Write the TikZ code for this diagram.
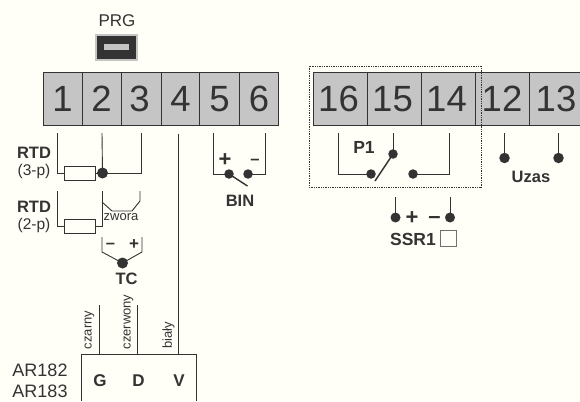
\documentclass[tikz,border=0pt]{standalone}
\usepackage{fontspec}
\setmainfont{Liberation Sans}
\usetikzlibrary{positioning}
\definecolor{paper}{HTML}{FFFEF7}
\definecolor{ink}{HTML}{333333}
\definecolor{termgray}{HTML}{C4C5C4}
\newcommand{\fsize}[1]{\fontsize{#1}{#1}\selectfont}
\tikzset{
  term/.style = {draw=ink, fill=termgray, line width=.85pt, minimum height=53pt,
    inner sep=0pt, font=\fsize{36.5}, text=ink},
  wire/.style = {draw=ink, line width=.9pt},
  dot/.style  = {circle, fill=ink, inner sep=0pt, minimum size=9pt},
  rtd/.style  = {draw=ink, fill=paper, line width=.9pt, minimum width=31pt,
    minimum height=14pt, inner sep=0pt},
  lbl/.style  = {inner sep=0pt, text=ink, font=\fsize{17}},
  blbl/.style = {lbl, font=\fsize{16.5}\bfseries},
  sign/.style = {lbl, font=\fsize{22}\bfseries},
  small/.style = {lbl, font=\fsize{13}},
}
\begin{document}
\begin{tikzpicture}[x=1pt,y=-1pt]
  \useasboundingbox[fill=paper] (0,0) rectangle (580,401);
  % programming socket
  \node[lbl] (prg) at (117,21) {PRG};
  \node[draw=termgray, fill=ink, line width=2pt, minimum width=41pt, minimum height=25pt,
    inner sep=0pt] (socket) at (116.5,47.5) {};
  \node[fill=termgray, minimum width=25pt, minimum height=6pt, inner sep=0pt] (slot) at (116.5,47) {};
  % terminals left
  \node[term, minimum width=39pt] (t1) at (62.5,99) {1};
  \node[term, minimum width=39pt] (t2) at (101.5,99) {2};
  \node[term, minimum width=40pt] (t3) at (141,99) {\kern-3pt 3};
  \node[term, minimum width=39pt] (t4) at (180.5,99) {4};
  \node[term, minimum width=39.5pt] (t5) at (219.5,99) {5};
  \node[term, minimum width=39.5pt] (t6) at (259,99) {6};
  % terminals right
  \node[term, minimum width=54pt] (t16) at (340,99) {\kern-3pt 16};
  \node[term, minimum width=54pt] (t15) at (394,99) {\kern-3pt 15};
  \node[term, minimum width=54pt] (t14) at (448,99) {\kern-3pt 14};
  \node[term, minimum width=54pt] (t12) at (502,99) {12};
  \node[term, minimum width=54pt] (t13) at (556,99) {13};
  \draw[ink, line width=.75pt, densely dotted] (309,66) rectangle (481,187);
  % RTD 3-wire
  \node[blbl] (rtd3) at (34,153) {RTD};
  \node[lbl, font=\fsize{15.5}] (rtd3p) at (34,171) {(3-p)};
  \node[rtd] (r3) at (80,173) {};
  \node[dot, minimum size=11pt] (d3) at (102.5,173) {};
  \draw[wire] (57,133) |- (r3.west);
  \draw[wire] (d3.center) -- (r3.east);
  \draw[wire] (102,133) -- (d3.center);
  \draw[wire] (141.5,133) |- (d3.center);
  % RTD 2-wire
  \node[blbl] (rtd2) at (34,207) {RTD};
  \node[lbl, font=\fsize{15.5}] (rtd2p) at (34,225) {(2-p)};
  \node[rtd] (r2) at (80,226) {};
  \draw[wire] (57,191) |- (r2.west);
  \draw[wire] (102,191) |- (r2.east);
  \draw[wire] (102,202) -- (112,211) -- (132,211) -- (140,201) -- (140,191);
  \node[small] (zw) at (121,217) {zwora};
  % thermocouple
  \node[dot, minimum size=11pt] (tc) at (122.5,263) {};
  \draw[wire] (102,237) -- (102,252) -- (tc.center) -- (142,252) -- (142,237);
  \node[blbl] (tcl) at (126.5,279) {TC};
  \node[blbl] (tcm) at (110.5,246) {--};
  \node[sign, font=\fsize{17}\bfseries] (tcp) at (134,245) {+};
  % transmitter
  \node[lbl, font=\fsize{18}] (ar2) at (40,370.5) {AR182};
  \node[lbl, font=\fsize{18}] (ar3) at (40,391) {AR183};
  \draw[wire] (81,401) -- (81,354) -- (196,354) -- (196,401);
  \node[blbl, font=\fsize{17}\bfseries] (g) at (100,381) {G};
  \node[blbl, font=\fsize{17}\bfseries] (d) at (138.5,381) {D};
  \node[blbl, font=\fsize{17}\bfseries] (v) at (179,381) {V};
  \draw[wire] (99,305) -- (99,354);
  \draw[wire] (137,305) -- (137,354);
  \draw[wire] (178,134) -- (178,354);
  \node[small, rotate=90] (cz1) at (89.5,330) {czarny};
  \node[small, rotate=90] (cz2) at (128.5,322) {czerwony};
  \node[small, rotate=90] (bi) at (168.5,335) {biały};
  % binary input
  \node[dot, minimum size=9.5pt] (b1) at (229,174) {};
  \node[dot, minimum size=9.5pt] (b2) at (248,174) {};
  \coordinate (bsw) at (247.5,186);
  \draw[wire] (213,133) |- (b1.center);
  \draw[wire] (265,133) |- (b2.center);
  \draw[ink, line width=1.4pt] (b1.center) -- (bsw);
  \node[sign] (bp) at (225,160) {+};
  \node[blbl] (bm) at (255,162) {--};
  \node[blbl] (bin) at (240,201) {BIN};
  % relay
  \node[dot, minimum size=9.5pt] (p15) at (393,154) {};
  \node[dot, minimum size=9.5pt] (p16) at (371,174) {};
  \node[dot, minimum size=9.5pt] (p14) at (413,174) {};
  \coordinate (psw) at (375,181);
  \draw[wire] (338,133) |- (p16.center);
  \draw[wire] (393,133) -- (p15.center);
  \draw[wire] (449,133) |- (p14.center);
  \draw[ink, line width=1.4pt] (p15.center) -- (psw);
  \node[blbl, font=\fsize{17.5}\bfseries] (p1) at (364,147) {P1};
  % supply
  \node[dot, minimum size=10.5pt] (u12) at (504.5,158) {};
  \node[dot, minimum size=10.5pt] (u13) at (558.5,158) {};
  \draw[wire] (504.5,133) -- (u12.center);
  \draw[wire] (558.5,133) -- (u13.center);
  \node[blbl] (uz) at (531,177) {Uzas};
  % SSR
  \node[dot, minimum size=10pt] (s1) at (395.5,217.5) {};
  \node[dot, minimum size=10pt] (s2) at (450,217.5) {};
  \draw[wire] (395.5,197) -- (s1.center);
  \draw[wire] (450,197) -- (s2.center);
  \node[sign] (sp) at (412,218) {+};
  \node[sign] (sm) at (434.5,220) {--};
  \node[blbl, font=\fsize{17.5}\bfseries] (ssr) at (413,239) {SSR1};
  \node[draw=ink!70, line width=.5pt, minimum size=16pt, inner sep=0pt] (sq) at (448,238) {};
\end{tikzpicture}
\end{document}
